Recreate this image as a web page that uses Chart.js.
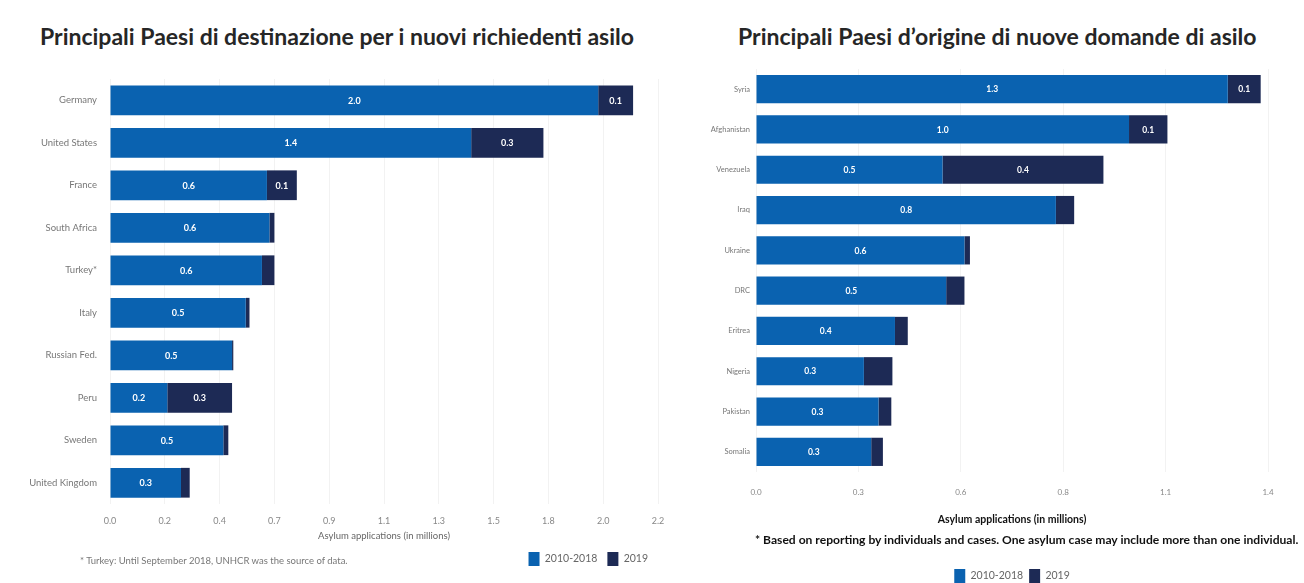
<!DOCTYPE html>
<html>
<head>
<meta charset="utf-8">
<script src="https://cdn.jsdelivr.net/npm/chart.js@4.4.1/dist/chart.umd.min.js"></script>
<style>
  html, body { margin: 0; padding: 0; background: #ffffff; }
  body { width: 1304px; height: 583px; position: relative; overflow: hidden; font-family: "Lato", "DejaVu Sans", sans-serif; }
  .title { position: absolute; top: 22px; font-size: 23px; font-weight: 700; color: #262626; white-space: nowrap; }
  .box { position: absolute; }
  .note { position: absolute; white-space: nowrap; }
</style>
</head>
<body>
<div class="title" style="left:40px;">Principali Paesi di destinazione per i nuovi richiedenti asilo</div>
<div class="title" style="left:738px;">Principali Paesi d’origine di nuove domande di asilo</div>

<div class="box" style="left:0px; top:60px; width:680px; height:518px;"><canvas id="dest"></canvas></div>
<div class="box" style="left:680px; top:50px; width:624px; height:543px;"><canvas id="orig"></canvas></div>

<div class="note" style="left:80px; top:555px; font-size:9.5px; color:#777;">* Turkey: Until September 2018, UNHCR was the source of data.</div>
<div class="note" style="left:755px; top:532px; font-size:12.1px; color:#111; font-weight:700;">* Based on reporting by individuals and cases. One asylum case may include more than one individual.</div>

<script>
// Destination countries of new asylum seekers (millions)
const destCountries = ["Germany", "United States", "France", "South Africa", "Turkey*", "Italy", "Russian Fed.", "Peru", "Sweden", "United Kingdom"];
const dest2010_2018 = [1.96, 1.45, 0.63, 0.64, 0.61, 0.545, 0.49, 0.23, 0.455, 0.285];
const dest2019      = [0.14, 0.29, 0.12, 0.02, 0.05, 0.015, 0.005, 0.26, 0.02, 0.035];
const destTicks = ["0.0", "0.2", "0.4", "0.7", "0.9", "1.1", "1.3", "1.5", "1.8", "2.0", "2.2"];

// Origin countries of new asylum applications (millions)
const origCountries = ["Syria", "Afghanistan", "Venezuela", "Iraq", "Ukraine", "DRC", "Eritrea", "Nigeria", "Pakistan", "Somalia"];
const orig2010_2018 = [1.29, 1.02, 0.51, 0.82, 0.57, 0.52, 0.38, 0.295, 0.335, 0.315];
const orig2019      = [0.09, 0.105, 0.44, 0.05, 0.015, 0.05, 0.035, 0.078, 0.035, 0.032];
const origTicks = ["0.0", "0.3", "0.6", "0.8", "1.1", "1.4"];

const seriesNames = ["2010-2018", "2019"];
const colPeriod = "#0a62b0";
const colYear = "#1d2a55";
const fontFamily = "Lato, 'DejaVu Sans', sans-serif";

// Writes the rounded value inside each bar segment that is wide enough
const segmentLabels = {
  id: "segmentLabels",
  afterDatasetsDraw(chart, args, opts) {
    const ctx = chart.ctx;
    ctx.save();
    ctx.fillStyle = "#ffffff";
    ctx.font = "700 " + opts.size + "px " + fontFamily;
    ctx.textAlign = "center";
    ctx.textBaseline = "middle";
    chart.data.datasets.forEach((ds, di) => {
      const meta = chart.getDatasetMeta(di);
      meta.data.forEach((bar, i) => {
        const v = ds.data[i];
        if (v < 0.085) return;
        const cx = (bar.x + bar.base) / 2;
        ctx.fillText(v.toFixed(1), cx, bar.y + 0.5);
      });
    });
    ctx.restore();
  }
};

function makeChart(id, cats, a, b, ticks, cfg) {
  const step = cfg.max / (ticks.length - 1);
  return new Chart(document.getElementById(id), {
    type: "bar",
    data: {
      labels: cats,
      datasets: [
        { label: seriesNames[0], data: a, backgroundColor: colPeriod, barPercentage: cfg.bar, categoryPercentage: 1 },
        { label: seriesNames[1], data: b, backgroundColor: colYear, barPercentage: cfg.bar, categoryPercentage: 1 }
      ]
    },
    options: {
      indexAxis: "y",
      responsive: true,
      maintainAspectRatio: false,
      animation: false,
      layout: { padding: cfg.padding },
      plugins: {
        legend: {
          position: "bottom",
          align: cfg.legendAlign,
          fullSize: false,
          labels: {
            boxWidth: 11, boxHeight: 14, padding: cfg.legendPad,
            color: "#666",
            font: { family: fontFamily, size: cfg.legendSize }
          }
        },
        tooltip: { enabled: false },
        segmentLabels: { size: cfg.valueSize }
      },
      scales: {
        x: {
          stacked: true,
          min: 0, max: cfg.max,
          afterBuildTicks(scale) {
            scale.ticks = ticks.map((t, i) => ({ value: i * step }));
          },
          ticks: {
            callback: (v, i) => ticks[i],
            color: "#888",
            padding: cfg.tickPad,
            font: { family: fontFamily, size: cfg.tickSize }
          },
          grid: { color: "#f2f2f2", drawTicks: false },
          border: { display: false },
          title: {
            display: true,
            text: "Asylum applications (in millions)",
            color: cfg.axisTitleColor,
            padding: cfg.titlePad,
            font: { family: fontFamily, size: cfg.axisTitleSize, weight: cfg.axisTitleWeight }
          },
          afterFit(scale) { scale.height = cfg.xHeight; }
        },
        y: {
          stacked: true,
          ticks: {
            color: "#777",
            padding: cfg.catPad,
            font: { family: fontFamily, size: cfg.catSize }
          },
          grid: { display: false, drawTicks: false },
          border: { display: false },
          afterFit(scale) { scale.width = cfg.yWidth; }
        }
      }
    },
    plugins: [segmentLabels]
  });
}

makeChart("dest", destCountries, dest2010_2018, dest2019, destTicks, {
  max: 2.2, bar: 0.7, yWidth: 110, xHeight: 38,
  padding: { top: 19, right: 22, bottom: 2, left: 0 },
  legendAlign: "end", legendPad: 10, legendSize: 10.5,
  valueSize: 9, tickSize: 9, catSize: 9.5, catPad: 13,
  tickPad: 12, titlePad: { top: 0, bottom: 0 },
  axisTitleSize: 9.5, axisTitleWeight: "400", axisTitleColor: "#666"
});

makeChart("orig", origCountries, orig2010_2018, orig2019, origTicks, {
  max: 1.4, bar: 0.7, yWidth: 76, xHeight: 91,
  padding: { top: 19, right: 36, bottom: 0, left: 0 },
  legendAlign: "center", legendPad: 6, legendSize: 10.5,
  valueSize: 8.5, tickSize: 8, catSize: 7.5, catPad: 6,
  tickPad: 16, titlePad: { top: 0, bottom: 37 },
  axisTitleSize: 10.5, axisTitleWeight: "700", axisTitleColor: "#111"
});
</script>
</body>
</html>
